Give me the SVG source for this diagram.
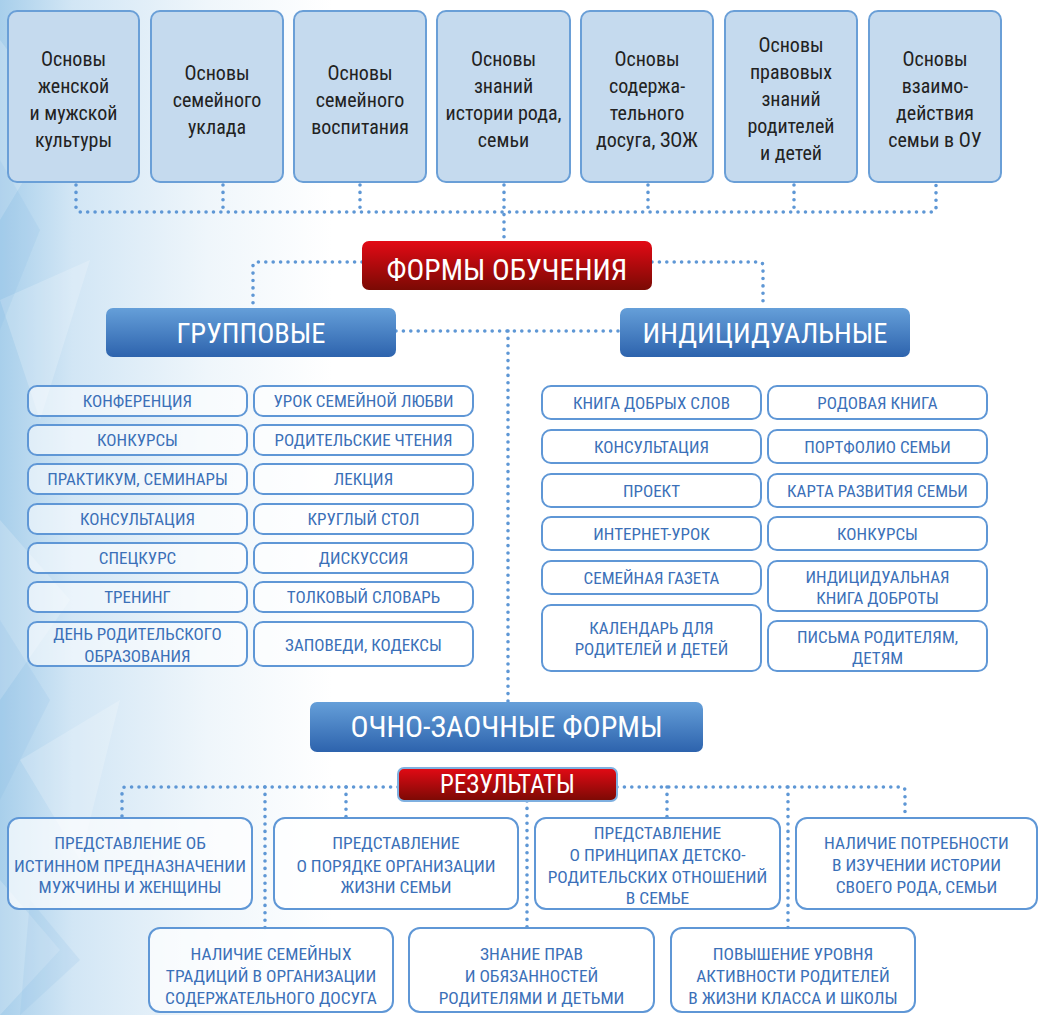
<svg xmlns="http://www.w3.org/2000/svg" width="1039" height="1015" viewBox="0 0 1039 1015">
<defs>
<linearGradient id="bg" x1="0" y1="0" x2="1" y2="0">
<stop offset="0" stop-color="#a8cfeb"/>
<stop offset="0.07" stop-color="#d2e6f5"/>
<stop offset="0.2" stop-color="#eff6fb"/>
<stop offset="0.32" stop-color="#ffffff"/>
</linearGradient>
<linearGradient id="red" x1="0" y1="0" x2="0" y2="1">
<stop offset="0" stop-color="#e30a15"/>
<stop offset="1" stop-color="#7a0a04"/>
</linearGradient>
<linearGradient id="blue" x1="0" y1="0" x2="0" y2="1">
<stop offset="0" stop-color="#659fd9"/>
<stop offset="1" stop-color="#2d63ad"/>
</linearGradient>
<style>
text{font-family:"Liberation Sans Narrow","Roboto Condensed","DejaVu Sans Condensed","Arial Narrow",sans-serif;text-anchor:middle}
.top rect{fill:#c5daee;stroke:#6a9fd7;stroke-width:2}
.top text{font-size:20px;fill:#222}
.item rect{fill:#ffffff;fill-opacity:0.55;stroke:#5f97d6;stroke-width:2}
.item text{font-size:17px;fill:#3b70b8}
.res rect{fill:#ffffff;fill-opacity:0.7;stroke:#5f97d6;stroke-width:2}
.res text{font-size:17.4px;fill:#3b70b8}
.hdr text{fill:#ffffff;font-size:28.5px}
.conn path{fill:none;stroke:#5e97d5;stroke-width:3.6;stroke-linecap:round;stroke-dasharray:0 7.4}
</style>
</defs>
<rect width="1039" height="1015" fill="url(#bg)"/>
<g opacity="0.2" fill="#ffffff">
<polygon points="0,40 60,120 0,220"/>
<polygon points="0,300 90,260 40,420"/>
<polygon points="0,520 70,600 0,700"/>
<polygon points="20,760 120,700 80,860"/>
<polygon points="0,880 60,950 0,1015"/>
</g>
<g opacity="0.15" fill="#7fb6e2">
<polygon points="0,160 40,230 0,330"/>
<polygon points="0,620 50,700 0,800"/>
<polygon points="30,900 80,960 20,1015"/>
</g>

<g class="conn" id="connectors">
<path d="M76 185 V208 Q76 212 80 212 H932 Q936 212 936 208 V185"/>
<path d="M223 185 V212"/>
<path d="M360 185 V212"/>
<path d="M504 185 V241"/>
<path d="M648 185 V212"/>
<path d="M794 185 V212"/>
<path d="M362 262 H257 Q253 262 253 266 V308"/>
<path d="M652 262 H759 Q763 262 763 266 V308"/>
<path d="M396 331 H620"/>
<path d="M508 331 V703"/>
<path d="M398 787 H126 Q122 787 122 791 V817"/>
<path d="M265 787 V928"/>
<path d="M346 787 V817"/>
<path d="M617 787 H901 Q905 787 905 791 V817"/>
<path d="M667 787 V817"/>
<path d="M788 787 V928"/>
<path d="M527 801 V928"/>
</g>

<g class="top" id="top1"><rect x="8" y="11" width="131" height="171" rx="9"/>
<text x="73.5"><tspan x="73.5" y="66">Основы</tspan><tspan x="73.5" y="93">женской</tspan><tspan x="73.5" y="120">и мужской</tspan><tspan x="73.5" y="147">культуры</tspan></text></g>
<g class="top" id="top2"><rect x="151" y="11" width="132" height="171" rx="9"/>
<text x="217"><tspan x="217" y="80">Основы</tspan><tspan x="217" y="107">семейного</tspan><tspan x="217" y="134">уклада</tspan></text></g>
<g class="top" id="top3"><rect x="294" y="11" width="132" height="171" rx="9"/>
<text x="360"><tspan x="360" y="80">Основы</tspan><tspan x="360" y="107">семейного</tspan><tspan x="360" y="134">воспитания</tspan></text></g>
<g class="top" id="top4"><rect x="437" y="11" width="133" height="171" rx="9"/>
<text x="503.5"><tspan x="503.5" y="66">Основы</tspan><tspan x="503.5" y="93">знаний</tspan><tspan x="503.5" y="120">истории рода,</tspan><tspan x="503.5" y="147">семьи</tspan></text></g>
<g class="top" id="top5"><rect x="581" y="11" width="132" height="171" rx="9"/>
<text x="647"><tspan x="647" y="66">Основы</tspan><tspan x="647" y="93">содержа-</tspan><tspan x="647" y="120">тельного</tspan><tspan x="647" y="147">досуга, ЗОЖ</tspan></text></g>
<g class="top" id="top6"><rect x="725" y="11" width="132" height="171" rx="9"/>
<text x="791"><tspan x="791" y="52">Основы</tspan><tspan x="791" y="79">правовых</tspan><tspan x="791" y="106">знаний</tspan><tspan x="791" y="133">родителей</tspan><tspan x="791" y="160">и детей</tspan></text></g>
<g class="top" id="top7"><rect x="869" y="11" width="132" height="171" rx="9"/>
<text x="935"><tspan x="935" y="66">Основы</tspan><tspan x="935" y="93">взаимо-</tspan><tspan x="935" y="120">действия</tspan><tspan x="935" y="147">семьи в ОУ</tspan></text></g>

<g class="hdr" id="formy"><rect x="362" y="241" width="290" height="49" rx="7" fill="url(#red)"/>
<text x="507" y="280" style="font-size:29.5px">ФОРМЫ ОБУЧЕНИЯ</text></g>
<g class="hdr" id="gruppovye"><rect x="106" y="308" width="290" height="49" rx="7" fill="url(#blue)"/>
<text x="251" y="343">ГРУППОВЫЕ</text></g>
<g class="hdr" id="individ"><rect x="620" y="308" width="290" height="49" rx="7" fill="url(#blue)"/>
<text x="765" y="343">ИНДИЦИДУАЛЬНЫЕ</text></g>
<g class="hdr" id="ochno"><rect x="310" y="702" width="393" height="50" rx="7" fill="url(#blue)"/>
<text x="506.5" y="737" style="font-size:30px">ОЧНО-ЗАОЧНЫЕ ФОРМЫ</text></g>
<g class="hdr" id="rezult"><rect x="398" y="768" width="219" height="33" rx="6" fill="url(#red)" stroke="#7fb0e0" stroke-width="2"/>
<text x="507.5" y="793" style="font-size:25px">РЕЗУЛЬТАТЫ</text></g>

<g class="item" id="g1"><rect x="28" y="386" width="219" height="30" rx="9"/><text x="137.5" y="407">КОНФЕРЕНЦИЯ</text></g>
<g class="item" id="g2"><rect x="28" y="425" width="219" height="30" rx="9"/><text x="137.5" y="446">КОНКУРСЫ</text></g>
<g class="item" id="g3"><rect x="28" y="464" width="219" height="30" rx="9"/><text x="137.5" y="485">ПРАКТИКУМ, СЕМИНАРЫ</text></g>
<g class="item" id="g4"><rect x="28" y="504" width="219" height="30" rx="9"/><text x="137.5" y="525">КОНСУЛЬТАЦИЯ</text></g>
<g class="item" id="g5"><rect x="28" y="543" width="219" height="30" rx="9"/><text x="137.5" y="564">СПЕЦКУРС</text></g>
<g class="item" id="g6"><rect x="28" y="582" width="219" height="30" rx="9"/><text x="137.5" y="603">ТРЕНИНГ</text></g>
<g class="item" id="g7"><rect x="28" y="622" width="219" height="44" rx="9"/><text x="137.5"><tspan x="137.5" y="639.5">ДЕНЬ РОДИТЕЛЬСКОГО</tspan><tspan x="137.5" y="661.5">ОБРАЗОВАНИЯ</tspan></text></g>
<g class="item" id="g8"><rect x="254" y="386" width="219" height="30" rx="9"/><text x="363.5" y="407">УРОК СЕМЕЙНОЙ ЛЮБВИ</text></g>
<g class="item" id="g9"><rect x="254" y="425" width="219" height="30" rx="9"/><text x="363.5" y="446">РОДИТЕЛЬСКИЕ ЧТЕНИЯ</text></g>
<g class="item" id="g10"><rect x="254" y="464" width="219" height="30" rx="9"/><text x="363.5" y="485">ЛЕКЦИЯ</text></g>
<g class="item" id="g11"><rect x="254" y="504" width="219" height="30" rx="9"/><text x="363.5" y="525">КРУГЛЫЙ СТОЛ</text></g>
<g class="item" id="g12"><rect x="254" y="543" width="219" height="30" rx="9"/><text x="363.5" y="564">ДИСКУССИЯ</text></g>
<g class="item" id="g13"><rect x="254" y="582" width="219" height="30" rx="9"/><text x="363.5" y="603">ТОЛКОВЫЙ СЛОВАРЬ</text></g>
<g class="item" id="g14"><rect x="254" y="622" width="219" height="44" rx="9"/><text x="363.5" y="650.5">ЗАПОВЕДИ, КОДЕКСЫ</text></g>

<g class="item" id="i1"><rect x="542" y="386" width="219" height="33" rx="9"/><text x="651.5" y="408.5">КНИГА ДОБРЫХ СЛОВ</text></g>
<g class="item" id="i2"><rect x="542" y="430" width="219" height="33" rx="9"/><text x="651.5" y="452.5">КОНСУЛЬТАЦИЯ</text></g>
<g class="item" id="i3"><rect x="542" y="474" width="219" height="33" rx="9"/><text x="651.5" y="496.5">ПРОЕКТ</text></g>
<g class="item" id="i4"><rect x="542" y="517" width="219" height="33" rx="9"/><text x="651.5" y="539.5">ИНТЕРНЕТ-УРОК</text></g>
<g class="item" id="i5"><rect x="542" y="561" width="219" height="33" rx="9"/><text x="651.5" y="583.5">СЕМЕЙНАЯ ГАЗЕТА</text></g>
<g class="item" id="i6"><rect x="542" y="605" width="219" height="66" rx="9"/><text x="651.5"><tspan x="651.5" y="633.5">КАЛЕНДАРЬ ДЛЯ</tspan><tspan x="651.5" y="654.5">РОДИТЕЛЕЙ И ДЕТЕЙ</tspan></text></g>
<g class="item" id="i7"><rect x="768" y="386" width="219" height="33" rx="9"/><text x="877.5" y="408.5">РОДОВАЯ КНИГА</text></g>
<g class="item" id="i8"><rect x="768" y="430" width="219" height="33" rx="9"/><text x="877.5" y="452.5">ПОРТФОЛИО СЕМЬИ</text></g>
<g class="item" id="i9"><rect x="768" y="474" width="219" height="33" rx="9"/><text x="877.5" y="496.5">КАРТА РАЗВИТИЯ СЕМЬИ</text></g>
<g class="item" id="i10"><rect x="768" y="517" width="219" height="33" rx="9"/><text x="877.5" y="539.5">КОНКУРСЫ</text></g>
<g class="item" id="i11"><rect x="768" y="561" width="219" height="50" rx="9"/><text x="877.5"><tspan x="877.5" y="582.5">ИНДИЦИДУАЛЬНАЯ</tspan><tspan x="877.5" y="603.5">КНИГА ДОБРОТЫ</tspan></text></g>
<g class="item" id="i12"><rect x="768" y="621" width="219" height="50" rx="9"/><text x="877.5"><tspan x="877.5" y="642.5">ПИСЬМА РОДИТЕЛЯМ,</tspan><tspan x="877.5" y="663.5">ДЕТЯМ</tspan></text></g>

<g class="res" id="r1"><rect x="8" y="818" width="244" height="91" rx="11"/><text x="130"><tspan x="130" y="849">ПРЕДСТАВЛЕНИЕ ОБ</tspan><tspan x="130" y="871.5">ИСТИННОМ ПРЕДНАЗНАЧЕНИИ</tspan><tspan x="130" y="893">МУЖЧИНЫ И ЖЕНЩИНЫ</tspan></text></g>
<g class="res" id="r2"><rect x="274" y="818" width="244" height="91" rx="11"/><text x="396"><tspan x="396" y="849">ПРЕДСТАВЛЕНИЕ</tspan><tspan x="396" y="871.5">О ПОРЯДКЕ ОРГАНИЗАЦИИ</tspan><tspan x="396" y="893">ЖИЗНИ СЕМЬИ</tspan></text></g>
<g class="res" id="r3"><rect x="535" y="818" width="245" height="91" rx="11"/><text x="657.5"><tspan x="657.5" y="838.5">ПРЕДСТАВЛЕНИЕ</tspan><tspan x="657.5" y="860.5">О ПРИНЦИПАХ ДЕТСКО-</tspan><tspan x="657.5" y="882.5">РОДИТЕЛЬСКИХ ОТНОШЕНИЙ</tspan><tspan x="657.5" y="903.5">В СЕМЬЕ</tspan></text></g>
<g class="res" id="r4"><rect x="796" y="818" width="241" height="91" rx="11"/><text x="916.5"><tspan x="916.5" y="848.5">НАЛИЧИЕ ПОТРЕБНОСТИ</tspan><tspan x="916.5" y="871">В ИЗУЧЕНИИ ИСТОРИИ</tspan><tspan x="916.5" y="893">СВОЕГО РОДА, СЕМЬИ</tspan></text></g>
<g class="res" id="r5"><rect x="149" y="928" width="244" height="84" rx="11"/><text x="271"><tspan x="271" y="959.5">НАЛИЧИЕ СЕМЕЙНЫХ</tspan><tspan x="271" y="982">ТРАДИЦИЙ В ОРГАНИЗАЦИИ</tspan><tspan x="271" y="1003.5">СОДЕРЖАТЕЛЬНОГО ДОСУГА</tspan></text></g>
<g class="res" id="r6"><rect x="409" y="928" width="245" height="84" rx="11"/><text x="531.5"><tspan x="531.5" y="959.5">ЗНАНИЕ ПРАВ</tspan><tspan x="531.5" y="982">И ОБЯЗАННОСТЕЙ</tspan><tspan x="531.5" y="1003.5">РОДИТЕЛЯМИ И ДЕТЬМИ</tspan></text></g>
<g class="res" id="r7"><rect x="671" y="928" width="244" height="84" rx="11"/><text x="793"><tspan x="793" y="959.5">ПОВЫШЕНИЕ УРОВНЯ</tspan><tspan x="793" y="982">АКТИВНОСТИ РОДИТЕЛЕЙ</tspan><tspan x="793" y="1003.5">В ЖИЗНИ КЛАССА И ШКОЛЫ</tspan></text></g>
</svg>
